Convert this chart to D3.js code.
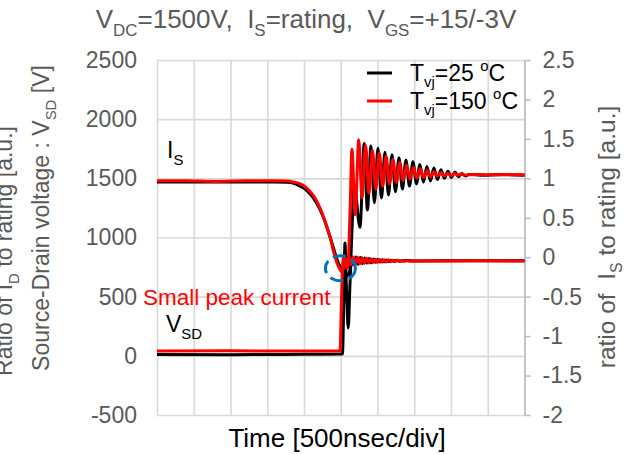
<!DOCTYPE html>
<html>
<head>
<meta charset="utf-8">
<script src="https://cdn.jsdelivr.net/npm/d3@7"></script>
<style>
  body { margin: 0; background: #fff; }
  svg { display: block; font-family: "Liberation Sans", Arial, sans-serif; }
  text { white-space: pre; }
</style>
</head>
<body>
<svg id="chart" width="625" height="454"></svg>
<script>
// ---- axis ticks ----
const timeTicks = [0, 500, 1000, 1500, 2000, 2500, 3000, 3500, 4000, 4500, 5000]; // ns, 500 ns/div
const voltTicks = [-500, 0, 500, 1000, 1500, 2000, 2500];
const ratioTicks = [-2, -1.5, -1, -0.5, 0, 0.5, 1, 1.5, 2, 2.5];

// ---- source current, ratio to rating (right axis) ----
const isTime25 = [0, 1600, 1770, 1850, 1948, 2020, 2084, 2150, 2220, 2270, 2330, 2400, 2450, 2500, 2545, 2575, 2600, 2629, 2655, 2683,
  2761, 2820, 2863, 2911, 2958, 3006, 3054, 3101, 3149, 3197, 3244, 3292, 3339, 3387, 3435, 3482, 3530, 3577, 3625, 3672,
  3720, 3767, 3815, 3863, 3910, 3958, 4006, 4053, 4101, 4148, 4196, 4243, 4400, 4700, 5000];
const is25 = [0.955, 0.955, 0.95, 0.94, 0.90, 0.86, 0.80, 0.72, 0.60, 0.49, 0.33, 0.12, -0.03, -0.14, -0.21, -0.24, -0.22, -0.15, 0.40, 0.92,
  0.38, 1.44, 0.60, 1.41, 0.69, 1.38, 0.75, 1.33, 0.79, 1.30, 0.83, 1.26, 0.865, 1.23, 0.90, 1.21, 0.93, 1.175, 0.95, 1.15,
  0.965, 1.13, 0.985, 1.11, 1.00, 1.09, 1.01, 1.08, 1.02, 1.06, 1.03, 1.05, 1.04, 1.045, 1.04];

const isTime150 = [0, 400, 800, 1200, 1600, 1770, 1850, 1948, 2020, 2084, 2150, 2220, 2270, 2315, 2360, 2397, 2430, 2465, 2500, 2520,
  2545, 2561, 2595, 2629, 2652, 2697, 2745, 2790, 2838, 2884, 2931, 2977, 3024, 3070, 3117, 3163, 3210, 3256, 3303, 3349,
  3396, 3442, 3489, 3535, 3582, 3628, 3675, 3721, 3768, 3814, 3861, 3907, 3954, 4000, 4047, 4093, 4140, 4186, 4300, 4500, 4700, 5000];
const is150 = [0.97, 0.97, 0.96, 0.97, 0.97, 0.965, 0.955, 0.93, 0.89, 0.83, 0.75, 0.62, 0.50, 0.37, 0.24, 0.09, -0.02, -0.11, -0.17, -0.19,
  -0.10, -0.07, -0.14, 0.66, 1.37, 0.54, 1.49, 0.75, 1.42, 0.81, 1.36, 0.86, 1.32, 0.90, 1.28, 0.93, 1.24, 0.95, 1.20, 0.97,
  1.17, 0.99, 1.14, 1.00, 1.12, 1.01, 1.10, 1.02, 1.085, 1.025, 1.075, 1.03, 1.065, 1.035, 1.06, 1.04, 1.055, 1.04, 1.05, 1.045, 1.05, 1.045];

// ---- source-drain voltage, V (left axis) ----
const vsdTime25 = [0, 1000, 2000, 2523, 2544, 2557, 2578, 2602, 2625, 2646, 2676, 2706, 2736, 2766, 2796, 2826, 2856, 2886, 2916, 2946,
  2976, 3006, 3036, 3066, 3096, 3126, 3156, 3186, 3216, 3250, 3300, 3400, 3500, 4200, 5000];
const vsd25 = [12, 10, 13, 15, 556, 953, 556, 235, 600, 827, 770, 835, 775, 830, 780, 826, 784, 822, 787, 818,
  790, 815, 793, 812, 795, 810, 797, 808, 799, 806, 801, 805, 802, 804, 803];

const vsdTime150 = [0, 1000, 2000, 2490, 2510, 2530, 2550, 2580, 2610, 2640, 2670, 2700, 2730, 2760, 2790, 2820, 2850, 2880, 2910, 2940,
  2970, 3000, 3030, 3060, 3090, 3120, 3150, 3180, 3210, 3240, 3270, 3300, 3330, 3360, 3400, 3450, 3500, 3600, 4300, 5000];
const vsd150 = [40, 42, 40, 40, 472, 793, 845, 770, 840, 772, 836, 775, 832, 778, 828, 782, 824, 785, 820, 788,
  817, 790, 814, 792, 812, 794, 810, 796, 808, 797, 807, 798, 806, 799, 804, 800, 803, 801, 803, 802];

const seriesNames = ["T_vj=25 °C", "T_vj=150 °C"];
const seriesColors = ["#000000", "#ff0000"];

// ---- layout ----
const svg = d3.select("#chart");
const x0 = 157, x1 = 524.5, yTop = 60, yBot = 415;
const x = d3.scaleLinear().domain([0, 5000]).range([x0, x1]);
const yV = d3.scaleLinear().domain([-500, 2500]).range([yBot, yTop]);
const yR = d3.scaleLinear().domain([-2, 2.5]).range([yBot, yTop]);
const grey = "#595959";

// rich text helper: parts = [[string, "sub"|"sup"|null], ...]
function rich(t, parts, size) {
  let shift = 0;
  parts.forEach(([s, kind]) => {
    const target = kind === "sub" ? size * 0.3 : kind === "sup" ? -size * 0.42 : 0;
    const ts = t.append("tspan").text(s).attr("dy", target - shift);
    if (kind) ts.attr("font-size", size * 0.65);
    shift = target;
  });
  return t;
}

// gridlines
const gridH = svg.append("g").attr("transform", `translate(${x0},0)`)
  .call(d3.axisLeft(yV).tickValues(voltTicks).tickSize(-(x1 - x0)).tickFormat(""));
const gridV = svg.append("g").attr("transform", `translate(0,${yBot})`)
  .call(d3.axisBottom(x).tickValues(timeTicks).tickSize(-(yBot - yTop)).tickFormat(""));
[gridH, gridV].forEach(g => {
  g.select(".domain").remove();
  g.selectAll("line").attr("stroke", "#d9d9d9").attr("stroke-width", 1.6);
});

// left tick labels
const axL = svg.append("g").attr("transform", `translate(${x0},0)`)
  .call(d3.axisLeft(yV).tickValues(voltTicks).tickSize(0).tickPadding(20).tickFormat(d => String(d)));
axL.select(".domain").remove();
axL.selectAll("text").attr("font-size", 23).attr("font-family", "Liberation Sans, Arial, sans-serif").attr("fill", grey);

// right axis
const axR = svg.append("g").attr("transform", `translate(${x1},0)`)
  .call(d3.axisRight(yR).tickValues(ratioTicks).tickSize(6).tickSizeOuter(0).tickPadding(12).tickFormat(d => String(d)));
axR.select(".domain").attr("stroke", "#bfbfbf").attr("stroke-width", 1.6);
axR.selectAll("line").attr("stroke", "#bfbfbf").attr("stroke-width", 1.6);
axR.selectAll("text").attr("font-size", 23).attr("font-family", "Liberation Sans, Arial, sans-serif").attr("fill", grey);

// traces
const lineV = d3.line().x(d => x(d[0])).y(d => yV(d[1])).curve(d3.curveMonotoneX);
const lineR = d3.line().x(d => x(d[0])).y(d => yR(d[1])).curve(d3.curveMonotoneX);
const zip = (a, b) => a.map((t, i) => [t, b[i]]);
const traces = [
  { d: zip(vsdTime25, vsd25), line: lineV, c: seriesColors[0] },
  { d: zip(isTime25, is25), line: lineR, c: seriesColors[0] },
  { d: zip(vsdTime150, vsd150), line: lineV, c: seriesColors[1] },
  { d: zip(isTime150, is150), line: lineR, c: seriesColors[1] }
];
svg.append("g").selectAll("path").data(traces).join("path")
  .attr("d", t => t.line(t.d))
  .attr("fill", "none")
  .attr("stroke", t => t.c)
  .attr("stroke-width", 3)
  .attr("stroke-linejoin", "round");

// marker around the small reverse peak
svg.append("ellipse")
  .attr("cx", x(2495)).attr("cy", yR(-0.14))
  .attr("rx", 15).attr("ry", 12.5)
  .attr("fill", "none").attr("stroke", "#0070c0").attr("stroke-width", 3)
  .attr("stroke-dasharray", "13 6");

// annotations
svg.append("text").attr("x", 143).attr("y", 305).attr("font-size", 22.5).attr("fill", "#ff0000")
  .text("Small peak current");
rich(svg.append("text").attr("x", 167).attr("y", 158).attr("font-size", 23).attr("fill", "#000"),
  [["I", null], ["S", "sub"]], 23);
rich(svg.append("text").attr("x", 166).attr("y", 332).attr("font-size", 23).attr("fill", "#000"),
  [["V", null], ["SD", "sub"]], 23);

// legend
const leg = svg.append("g");
seriesColors.forEach((c, i) => {
  const yy = 73 + i * 28;
  leg.append("line").attr("x1", 367).attr("x2", 392).attr("y1", yy).attr("y2", yy)
    .attr("stroke", c).attr("stroke-width", 3);
  const parts = seriesNames[i].split(/_| /);
  rich(leg.append("text").attr("x", 410).attr("y", yy + 7.5).attr("font-size", 23).attr("fill", "#000"),
    [[parts[0], null], [parts[1].split("=")[0], "sub"], ["=" + parts[1].split("=")[1] + " ", null], ["o", "sup"], ["C", null]], 23);
});

// title
rich(svg.append("text").attr("x", 306).attr("y", 28).attr("text-anchor", "middle").attr("font-size", 26).attr("fill", grey),
  [["V", null], ["DC", "sub"], ["=1500V,  I", null], ["S", "sub"], ["=rating,  V", null], ["GS", "sub"], ["=+15/-3V", null]], 26);

// axis titles
svg.append("text").attr("x", 337).attr("y", 447).attr("text-anchor", "middle").attr("font-size", 26).attr("fill", "#000")
  .text("Time [500nsec/div]");
rich(svg.append("text").attr("transform", "translate(49,218) rotate(-90)").attr("text-anchor", "middle")
  .attr("font-size", 23).attr("fill", grey),
  [["Source-Drain voltage : V", null], ["SD", "sub"], [" [V]", null]], 23);
rich(svg.append("text").attr("transform", "translate(615,237) rotate(-90)").attr("text-anchor", "middle")
  .attr("font-size", 24.5).attr("fill", grey),
  [["ratio of  I", null], ["S", "sub"], [" to rating [a.u.]", null]], 24.5);
rich(svg.append("text").attr("transform", "translate(12,251) rotate(-90)").attr("text-anchor", "middle")
  .attr("font-size", 23).attr("fill", grey),
  [["Ratio of I", null], ["D", "sub"], [" to rating [a.u.]", null]], 23);
</script>
</body>
</html>
